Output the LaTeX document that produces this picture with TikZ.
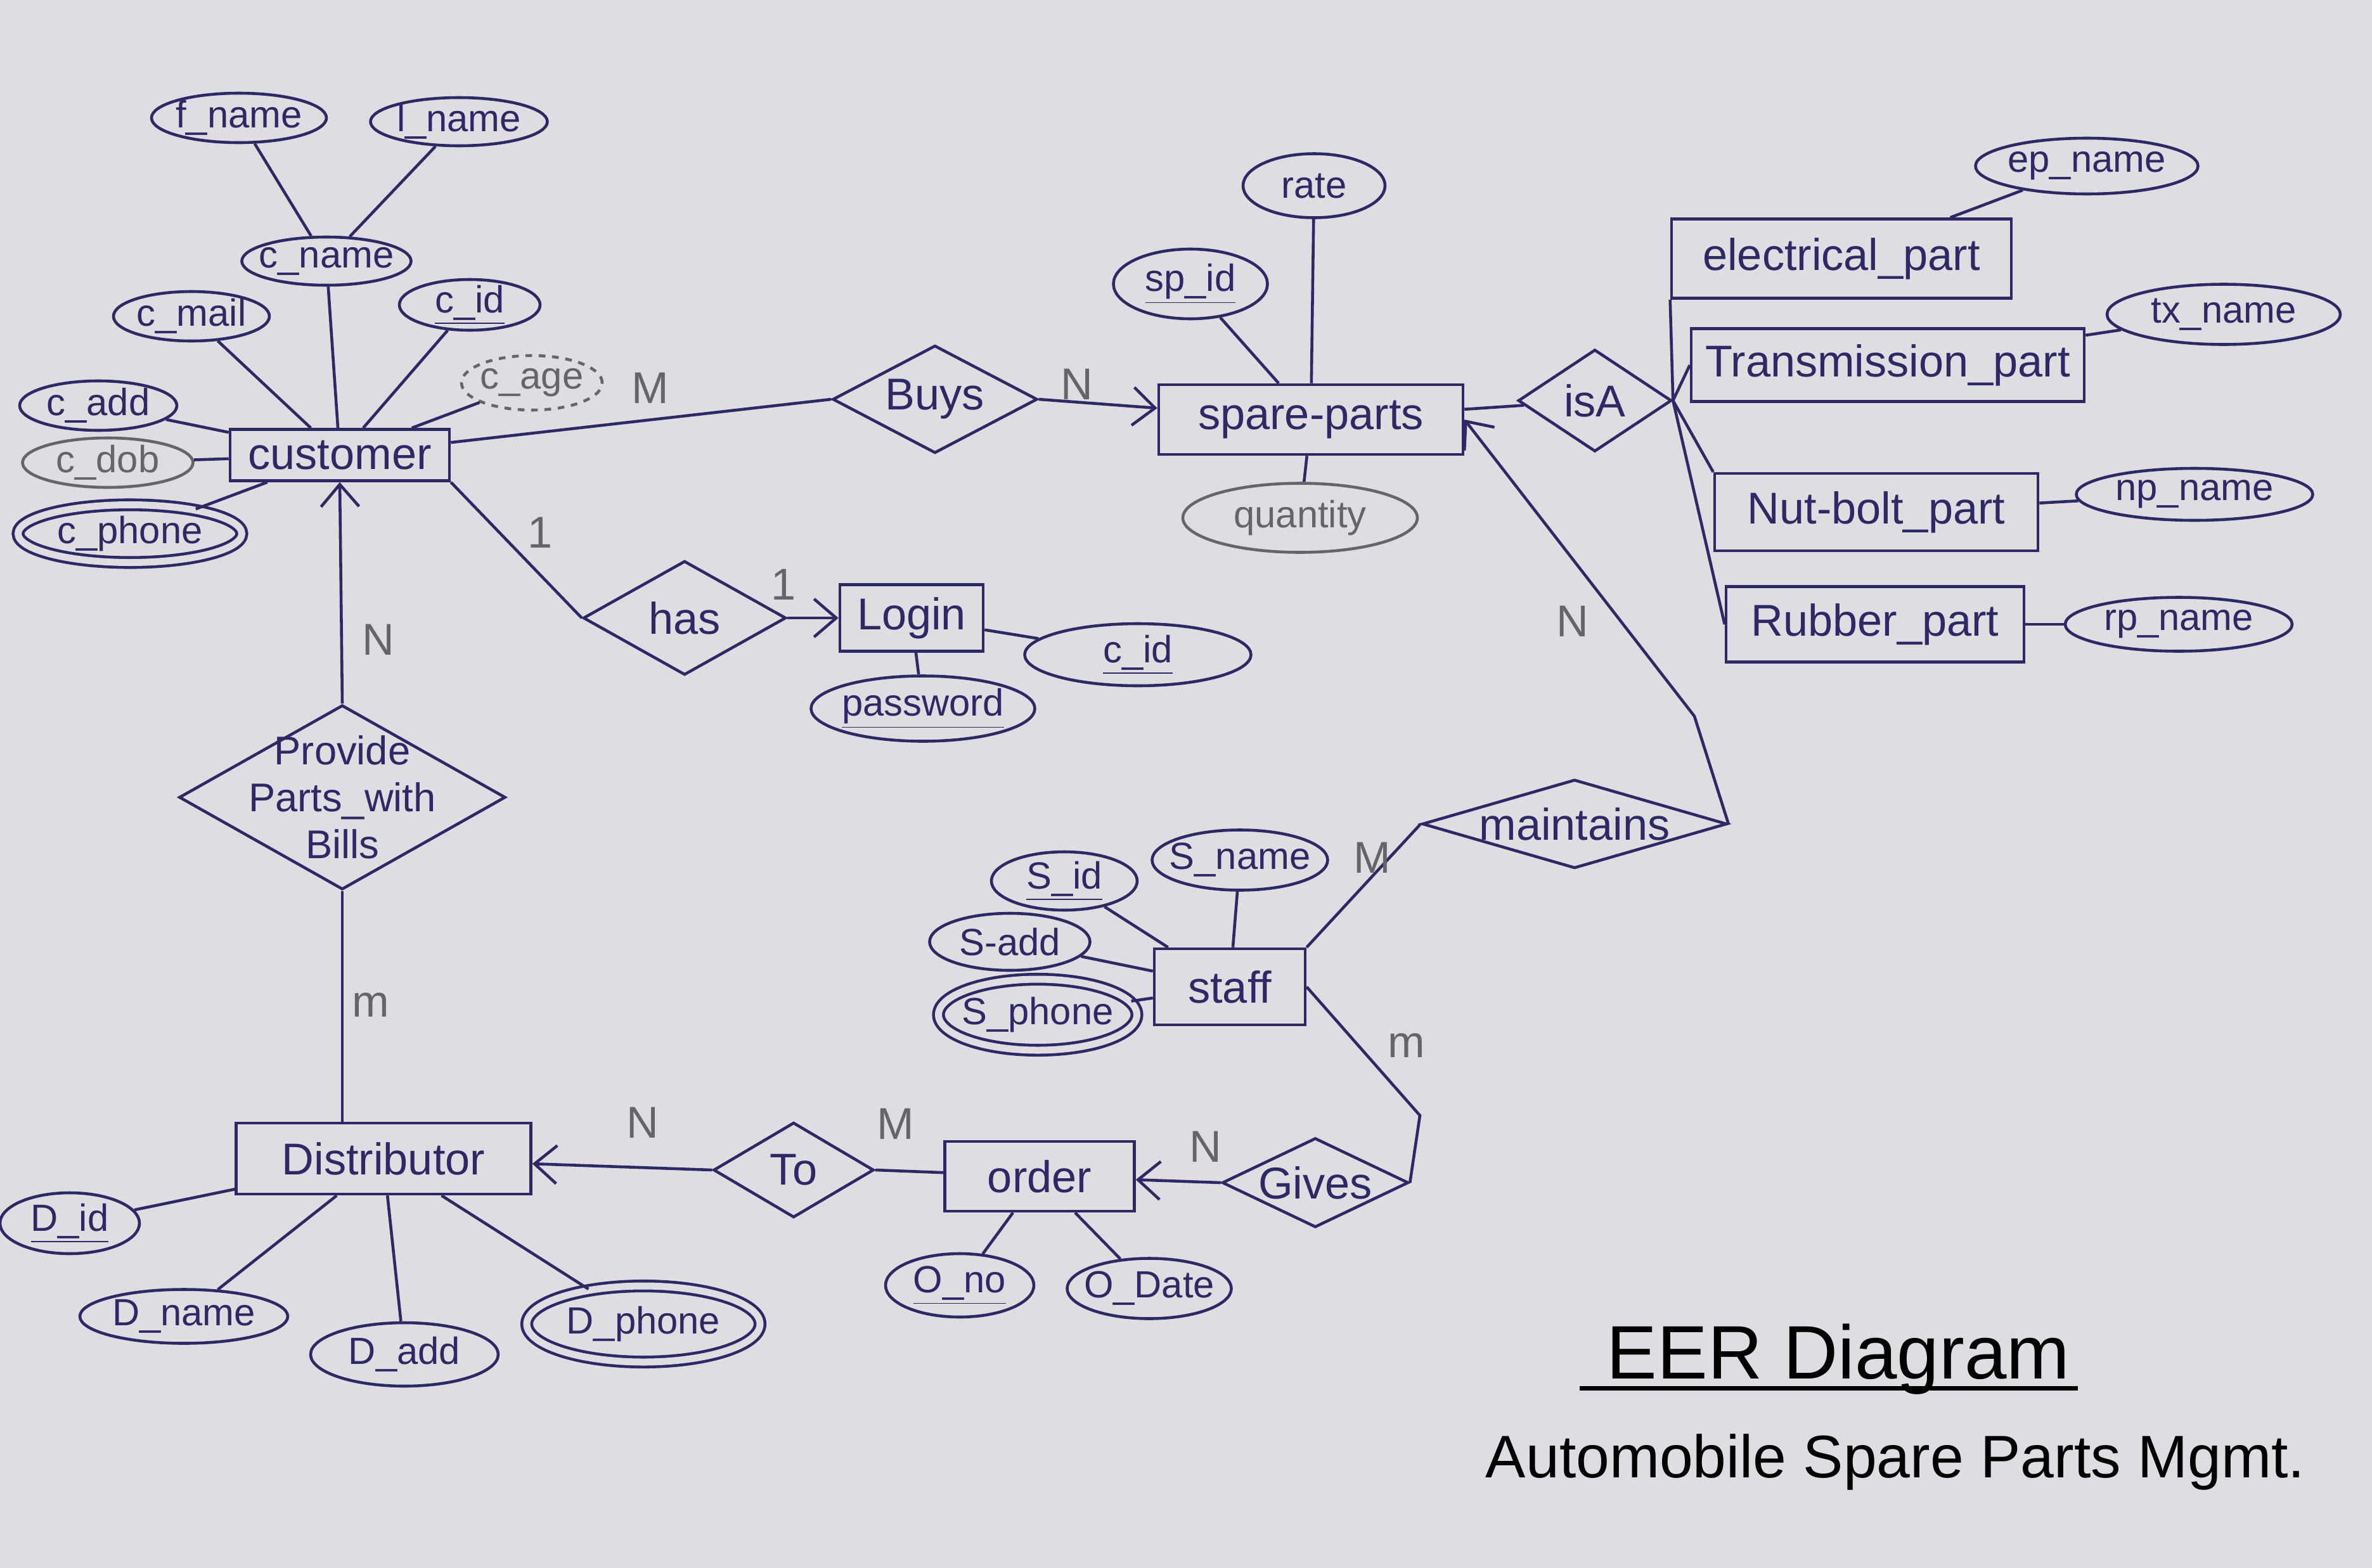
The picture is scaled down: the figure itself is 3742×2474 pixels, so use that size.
\documentclass[tikz,border=0pt]{standalone}
\usepackage{fontspec}
\setmainfont{Liberation Sans}
\usetikzlibrary{shapes.geometric,arrows.meta}

\definecolor{ink}{RGB}{46,40,100}
\definecolor{pencil}{RGB}{100,100,106}
\definecolor{paper}{RGB}{222,222,226}

\begin{document}
\begin{tikzpicture}[x=0.1mm,y=-0.1mm,
  every node/.style={text=ink},
  ent/.style={rectangle,draw=ink,line width=1.3pt,font=\fontsize{20}{24}\selectfont},
  attr/.style={ellipse,draw=ink,line width=1.3pt,inner xsep=-3mm,inner ysep=-3mm,font=\fontsize{17}{21}\selectfont},
  rel/.style={diamond,draw=ink,line width=1.3pt,aspect=2,inner sep=-3pt,font=\fontsize{20}{24}\selectfont},
  multi/.style={double=paper,double distance=1.1mm},
  faint/.style={draw=pencil,text=pencil},
  card/.style={text=pencil,font=\fontsize{20}{24}\selectfont},
  link/.style={draw=ink,line width=1.3pt},
  toent/.style={link,-{Straight Barb[length=3.5mm,width=6mm]}},
  wh/.style 2 args={minimum width=#1mm,minimum height=#2mm}
]
\useasboundingbox (0,0) rectangle (3742,2474);
\fill[paper] (0,0) rectangle (3742,2474);

% entities
\node[ent,wh={34.6}{8.1}] (customer) at (536,718) {customer};
\node[ent,wh={48}{11}] (spare) at (2068,662) {spare-parts};
\node[ent,wh={22.6}{10.5}] (login) at (1438,975) {Login};
\node[ent,wh={46.5}{11.2}] (distributor) at (605,1828) {Distributor};
\node[ent,wh={29.9}{11}] (order) at (1640,1856) {order};
\node[ent,wh={23.8}{12}] (staff) at (1940,1557) {staff};
\node[ent,wh={53.6}{12.5}] (elec) at (2905,408) {electrical\_part};
\node[ent,wh={62}{11.5}] (trans) at (2978,576) {Transmission\_part};
\node[ent,wh={51}{12.2}] (nut) at (2960,808) {Nut-bolt\_part};
\node[ent,wh={47}{11.9}] (rubber) at (2958,985) {Rubber\_part};

% relationships
\node[rel,wh={32.3}{17}] (buys) at (1475,630) {Buys};
\node[rel,wh={32}{18}] (has) at (1080,975) {has};
\node[rel,wh={51.5}{29.1},inner sep=-6mm,align=center,font=\fontsize{18}{21}\selectfont] (provide) at (540,1258) {Provide\\Parts\_with\\Bills};
\node[rel,wh={25.3}{15}] (to) at (1252,1846) {To};
\node[rel,wh={29.4}{14.1}] (gives) at (2075,1866) {Gives};
\node[rel,wh={48.1}{14},aspect=3.5] (maintains) at (2484,1300) {maintains};
\node[rel,wh={24.2}{16.1},aspect=1.5] (isa) at (2516,632) {isA};

% attributes
\node[attr,wh={27.6}{7.8}] (fname) at (377,186) {f\_name};
\node[attr,wh={27.9}{7.6}] (lname) at (724,192) {l\_name};
\node[attr,wh={26.7}{7.6}] (cname) at (515,412) {c\_name};
\node[attr,wh={24.6}{7.8}] (cmail) at (302,499) {c\_mail};
\node[attr,wh={22.2}{8}] (cid) at (741,481) {\underline{c\_id}};
\node[attr,faint,dashed,wh={22.2}{8.6}] (cage) at (839,604) {c\_age};
\node[attr,wh={24.8}{7.8}] (cadd) at (155,640) {c\_add};
\node[attr,faint,wh={26.9}{7.8}] (cdob) at (170,730) {c\_dob};
\node[attr,multi,wh={35.3}{9.1}] (cphone) at (205,842) {c\_phone};
\node[attr,wh={24.3}{11}] (spid) at (1878,448) {\underline{sp\_id}};
\node[attr,wh={22.4}{10.1}] (rate) at (2073,293) {rate};
\node[attr,faint,wh={37}{10.9}] (quantity) at (2051,817) {quantity};
\node[attr,wh={35.1}{8.8}] (epname) at (3292,262) {ep\_name};
\node[attr,wh={36.8}{9.5}] (txname) at (3508,496) {tx\_name};
\node[attr,wh={37.3}{8.2}] (npname) at (3462,780) {np\_name};
\node[attr,wh={35.8}{8.5}] (rpname) at (3437,985) {rp\_name};
\node[attr,wh={35.7}{9.8}] (lcid) at (1795,1033) {\underline{c\_id}};
\node[attr,wh={35.3}{10.3}] (password) at (1456,1118) {\underline{password}};
\node[attr,wh={23}{9.2}] (sid) at (1679,1390) {\underline{S\_id}};
\node[attr,wh={27.7}{9.5}] (sname) at (1956,1357) {S\_name};
\node[attr,wh={25.3}{9}] (sadd) at (1593,1486) {S-add};
\node[attr,multi,wh={31.3}{11.2}] (sphone) at (1637,1601) {S\_phone};
\node[attr,wh={23.4}{10}] (ono) at (1514,2028) {\underline{O\_no}};
\node[attr,wh={25.9}{9.5}] (odate) at (1813,2033) {O\_Date};
\node[attr,wh={22}{9.6}] (did) at (110,1930) {\underline{D\_id}};
\node[attr,wh={32.8}{8.5}] (dname) at (290,2077) {D\_name};
\node[attr,wh={29.6}{10}] (dadd) at (638,2137) {D\_add};
\node[attr,multi,wh={36.8}{12}] (dphone) at (1015,2089) {D\_phone};

% bends
\coordinate (gbend) at (2240,1760);
\coordinate (mbend) at (2673,1130);

% connectors
\draw[link] (fname) -- (cname);
\draw[link] (lname) -- (cname);
\draw[link] (cname) -- (customer);
\draw[link] (cmail) -- (customer);
\draw[link] (cid) -- (customer);
\draw[link] (cage) -- (customer);
\draw[link] (cadd) -- (customer);
\draw[link] (cdob) -- (customer);
\draw[link] (cphone) -- (customer);
\draw[link] (customer) -- (buys.west);
\draw[toent] (buys.east) -- (spare);
\draw[link] (spid) -- (spare);
\draw[link] (rate) -- (spare);
\draw[link] (quantity) -- (spare);
\draw[link] (spare) -- (isa);
\draw[link] (isa.east) -- (elec.south west);
\draw[link] (isa.east) -- (trans.west);
\draw[link] (isa.east) -- (nut.north west);
\draw[link] (isa.east) -- (rubber.west);
\draw[link] (epname) -- (elec);
\draw[link] (txname) -- (trans);
\draw[link] (npname) -- (nut);
\draw[link] (rpname) -- (rubber);
\draw[link] (customer.south east) -- (has.west);
\draw[toent] (has.east) -- (login);
\draw[link] (login) -- (lcid);
\draw[link] (login) -- (password);
\draw[toent] (provide.north) -- (customer.south);
\draw[link] (provide.south) -- (provide.south |- distributor.north);
\draw[link] (did) -- (distributor);
\draw[link] (dname) -- (distributor);
\draw[link] (dadd) -- (distributor);
\draw[link] (dphone) -- (distributor);
\draw[toent] (to.west) -- (distributor);
\draw[link] (to.east) -- (order);
\draw[link] (ono) -- (order);
\draw[link] (odate) -- (order);
\draw[toent] (gives.west) -- (order);
\draw[link] (staff.east) -- (gbend) -- (gives.east);
\draw[link] (staff.north east) -- (maintains.west);
\draw[toent] (maintains.east) -- (mbend) -- (spare.east);
\draw[link] (sid) -- (staff);
\draw[link] (sname) -- (staff);
\draw[link] (sadd) -- (staff);
\draw[link] (sphone) -- (staff);

% cardinalities
\node[card] (cm1) at (1026,612) {M};
\node[card] (cn1) at (1699,606) {N};
\node[card] (co1) at (852,840) {1};
\node[card] (co2) at (1236,922) {1};
\node[card] (cn2) at (597,1009) {N};
\node[card] (cm3) at (585,1586) {m};
\node[card] (cn4) at (1014,1771) {N};
\node[card] (cm5) at (1413,1773) {M};
\node[card] (cn6) at (1902,1809) {N};
\node[card] (cm7) at (2219,1650) {m};
\node[card] (cm8) at (2165,1353) {M};
\node[card] (cn9) at (2481,980) {N};

% title
\node[text=black,font=\fontsize{34}{40}\selectfont] (title) at (2900,2145) {EER Diagram};
\draw[line width=2pt] ([xshift=-3mm,yshift=-1.5mm]title.base west) -- ([yshift=-1.5mm]title.base east);
\node[text=black,font=\fontsize{27}{32}\selectfont] (subtitle) at (2990,2307) {Automobile Spare Parts Mgmt.};
\end{tikzpicture}
\end{document}
